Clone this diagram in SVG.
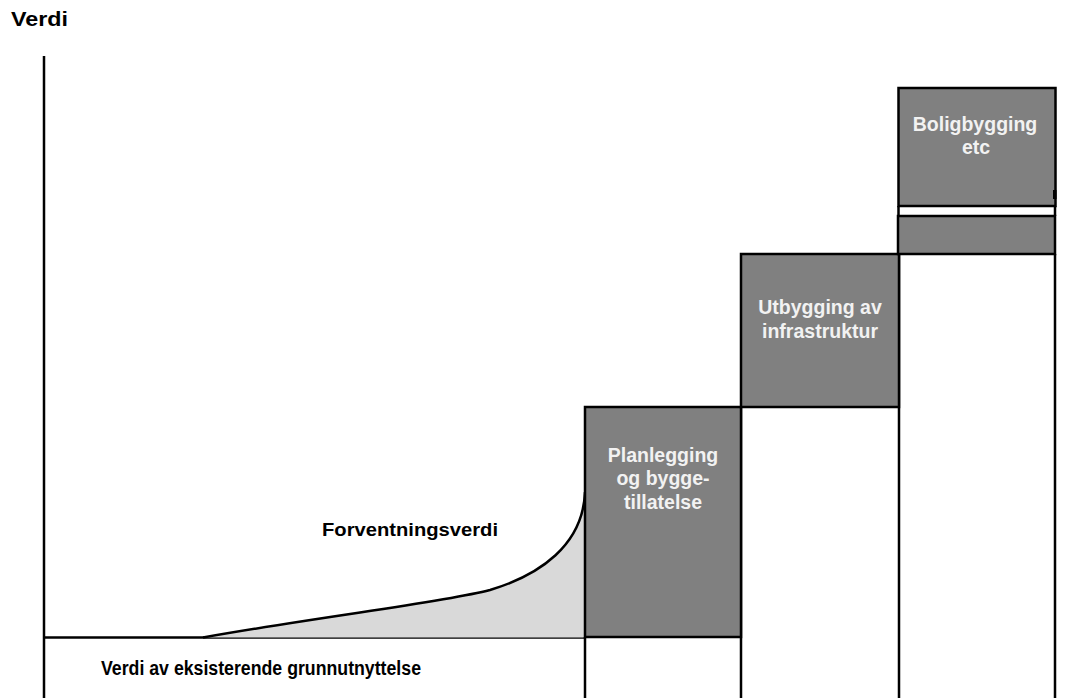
<svg xmlns="http://www.w3.org/2000/svg" width="1092" height="698" viewBox="0 0 1092 698">
<style>
.t{font-family:"Liberation Sans",Arial,sans-serif;font-weight:bold;fill:#000}
.w{font-family:"Liberation Sans",Arial,sans-serif;font-weight:bold;fill:#f2f2f2;font-size:19.5px;text-anchor:middle}
.box{fill:#808080;stroke:#000;stroke-width:2.5}
.ln{stroke:#000;stroke-width:2.5;fill:none}
</style>
<rect width="1092" height="698" fill="#fff"/>
<g id="axis">
<line class="ln" x1="44" y1="56" x2="44" y2="698" stroke-width="2.5"/>
<line class="ln" x1="44" y1="637.5" x2="585" y2="637.5" stroke-width="2.5"/>
</g>
<g id="title"><text class="t" x="11" y="26" font-size="21" textLength="57" lengthAdjust="spacingAndGlyphs">Verdi</text></g>
<g id="forventning">
<path d="M203,637.5 C330,615 440,603 490,590 C540,575 583,545 585,492 L585,637.5 Z" fill="#d9d9d9"/>
<path d="M203,637.5 C330,615 440,603 490,590 C540,575 583,545 585,492" class="ln"/>
<text class="t" x="322" y="536" font-size="19" textLength="176" lengthAdjust="spacingAndGlyphs">Forventningsverdi</text>
</g>
<g id="grunn"><text class="t" x="101" y="675" font-size="20" textLength="320" lengthAdjust="spacingAndGlyphs">Verdi av eksisterende grunnutnyttelse</text></g>
<g id="connectors">
<line class="ln" x1="585" y1="637" x2="585" y2="698"/>
<line class="ln" x1="741" y1="407" x2="741" y2="698"/>
<line class="ln" x1="899" y1="254" x2="899" y2="698"/>
<line class="ln" x1="1055" y1="254" x2="1055" y2="698"/>
<line class="ln" x1="898.5" y1="206" x2="898.5" y2="216" stroke-width="1.5"/>
<line class="ln" x1="1055" y1="206" x2="1055" y2="216" stroke-width="1.5"/>
</g>
<g id="planlegging">
<rect class="box" x="585" y="407" width="156" height="230"/>
<text class="w" x="663" y="462">Planlegging</text>
<text class="w" x="663" y="485">og bygge-</text>
<text class="w" x="663" y="509">tillatelse</text>
</g>
<g id="utbygging">
<rect class="box" x="741" y="254" width="158" height="153"/>
<text class="w" x="820" y="314">Utbygging av</text>
<text class="w" x="820" y="338">infrastruktur</text>
</g>
<g id="strip">
<rect class="box" x="898" y="216" width="157" height="38"/>
</g>
<g id="boligbygging">
<rect class="box" x="898.5" y="88" width="157" height="118"/>
<rect x="1053" y="190" width="3.5" height="9" fill="#000"/>
<text class="w" x="975" y="131">Boligbygging</text>
<text class="w" x="976" y="154">etc</text>
</g>
</svg>
